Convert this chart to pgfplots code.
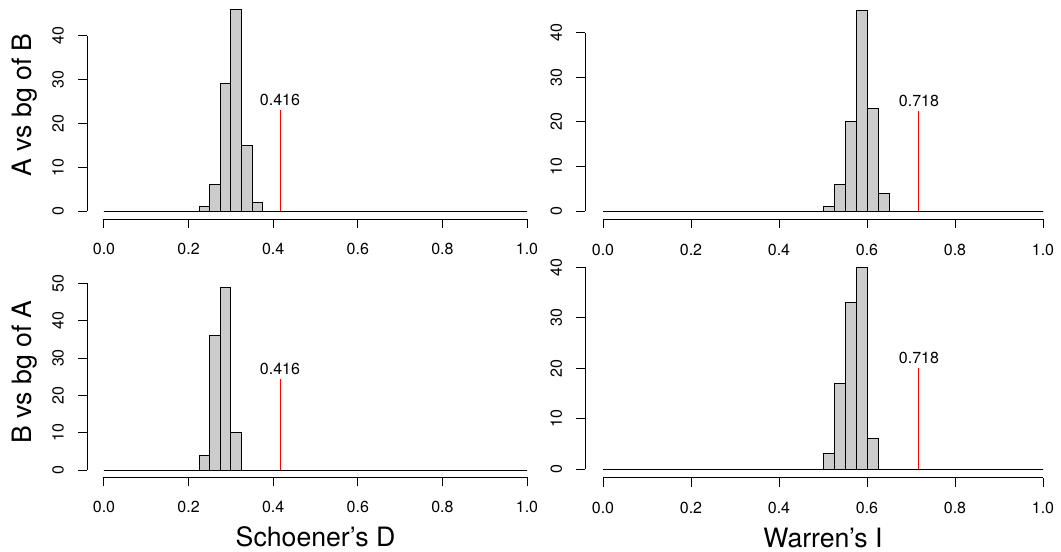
\documentclass[border=0pt]{standalone}
\usepackage{fontspec}
\setmainfont{TeX Gyre Heros}
\usepackage{pgfplots}
\pgfplotsset{compat=1.18}
\definecolor{barfill}{gray}{0.8}
\definecolor{obsred}{rgb}{1,0,0}
\tikzset{obslab/.style={font=\fontsize{12}{14}\selectfont, inner sep=0pt, text=black},
  ylab/.style={rotate=90, anchor=base, font=\fontsize{20}{24}\selectfont, inner sep=0pt}}
\pgfplotsset{
  rpanel/.style={
    scale only axis,
    axis x line*=bottom, axis y line*=left,
    axis line style={draw=none},
    xmin=-0.04, xmax=1.04,
    tick align=outside,
    major tick length=6.75pt,
    tick style={black, line width=0.75pt},
    xtick={0,0.2,0.4,0.6,0.8,1},
    xticklabels={0.0,0.2,0.4,0.6,0.8,1.0},
    /pgf/number format/assume math mode=true,
    ticklabel style={font=\fontsize{12}{14}\selectfont, inner sep=0pt},
    xticklabel style={anchor=north},
    yticklabel style={rotate=90, anchor=south},
    xticklabel shift=11.25pt,
    yticklabel shift=10.5pt,
    clip=false,
    every axis x label/.style={at={(axis description cs:0.5,-0.32)}, anchor=base, font=\fontsize{20}{24}\selectfont, inner sep=0pt},
  },
  hist/.style={ybar interval, fill=barfill, draw=black, line width=0.75pt},
  obs/.style={draw=obsred, line width=0.75pt, sharp plot, mark=none},
}
\begin{document}
\begin{tikzpicture}
\useasboundingbox (0,0) rectangle (795.75pt,414pt);
% top left
\begin{axis}[rpanel, at={(65.31pt,249.46pt)}, anchor=south west,
  width=342.63pt, height=164.03pt, ymin=-1.9, ymax=48,
  ytick={0,10,20,30,40}]
\addplot[hist] coordinates {(0,0)(0.025,0)(0.05,0)(0.075,0)(0.1,0)(0.125,0)(0.15,0)(0.175,0)(0.2,0)
 (0.225,1)(0.25,6)(0.275,29)(0.3,46)(0.325,15)(0.35,2)
 (0.375,0)(0.4,0)(0.425,0)(0.45,0)(0.475,0)(0.5,0)(0.525,0)(0.55,0)(0.575,0)(0.6,0)(0.625,0)(0.65,0)(0.675,0)
 (0.7,0)(0.725,0)(0.75,0)(0.775,0)(0.8,0)(0.825,0)(0.85,0)(0.875,0)(0.9,0)(0.925,0)(0.95,0)(0.975,0)(1,0)};
\addplot[obs] coordinates {(0.4165,0)(0.4165,23)};
\node[obslab] at (axis cs:0.416,25.3) {0.416};
\draw[black, line width=0.75pt] (axis cs:0,-1.9) -- (axis cs:1,-1.9);
\draw[black, line width=0.75pt] (axis cs:-0.04,0) -- (axis cs:-0.04,40);
\end{axis}
% top right
\begin{axis}[rpanel, at={(439.05pt,249.375pt)}, anchor=south west,
  width=356.4pt, height=163.6pt, ymin=-1.9, ymax=47,
  ytick={0,10,20,30,40}]
\addplot[hist] coordinates {(0,0)(0.025,0)(0.05,0)(0.075,0)(0.1,0)(0.125,0)(0.15,0)(0.175,0)(0.2,0)
 (0.225,0)(0.25,0)(0.275,0)(0.3,0)(0.325,0)(0.35,0)(0.375,0)(0.4,0)(0.425,0)(0.45,0)(0.475,0)
 (0.5,1)(0.525,6)(0.55,20)(0.575,45)(0.6,23)(0.625,4)
 (0.65,0)(0.675,0)(0.7,0)(0.725,0)(0.75,0)(0.775,0)(0.8,0)(0.825,0)(0.85,0)(0.875,0)(0.9,0)(0.925,0)(0.95,0)(0.975,0)(1,0)};
\addplot[obs] coordinates {(0.718,0)(0.718,22.5)};
\node[obslab] at (axis cs:0.718,24.75) {0.718};
\draw[black, line width=0.75pt] (axis cs:0,-1.9) -- (axis cs:1,-1.9);
\draw[black, line width=0.75pt] (axis cs:-0.04,0) -- (axis cs:-0.04,40);
\end{axis}
% bottom left
\begin{axis}[rpanel, at={(65.31pt,56.0pt)}, anchor=south west,
  width=342.63pt, height=162.29pt, ymin=-1.95, ymax=56,
  ytick={0,10,20,30,40,50}, xlabel={Schoener's D}]
\addplot[hist] coordinates {(0,0)(0.025,0)(0.05,0)(0.075,0)(0.1,0)(0.125,0)(0.15,0)(0.175,0)(0.2,0)
 (0.225,4)(0.25,36)(0.275,49)(0.3,10)
 (0.325,0)(0.35,0)(0.375,0)(0.4,0)(0.425,0)(0.45,0)(0.475,0)(0.5,0)(0.525,0)(0.55,0)(0.575,0)(0.6,0)(0.625,0)(0.65,0)(0.675,0)
 (0.7,0)(0.725,0)(0.75,0)(0.775,0)(0.8,0)(0.825,0)(0.85,0)(0.875,0)(0.9,0)(0.925,0)(0.95,0)(0.975,0)(1,0)};
\addplot[obs] coordinates {(0.4165,0)(0.4165,24.5)};
\node[obslab] at (axis cs:0.416,26.95) {0.416};
\draw[black, line width=0.75pt] (axis cs:0,-1.95) -- (axis cs:1,-1.95);
\draw[black, line width=0.75pt] (axis cs:-0.04,0) -- (axis cs:-0.04,50);
\end{axis}
% bottom right
\begin{axis}[rpanel, at={(439.05pt,55.6pt)}, anchor=south west,
  width=356.4pt, height=163.94pt, ymin=-1.75, ymax=41.6,
  ytick={0,10,20,30,40}, xlabel={Warren's I}]
\addplot[hist] coordinates {(0,0)(0.025,0)(0.05,0)(0.075,0)(0.1,0)(0.125,0)(0.15,0)(0.175,0)(0.2,0)
 (0.225,0)(0.25,0)(0.275,0)(0.3,0)(0.325,0)(0.35,0)(0.375,0)(0.4,0)(0.425,0)(0.45,0)(0.475,0)
 (0.5,3)(0.525,17)(0.55,33)(0.575,40)(0.6,6)
 (0.625,0)(0.65,0)(0.675,0)(0.7,0)(0.725,0)(0.75,0)(0.775,0)(0.8,0)(0.825,0)(0.85,0)(0.875,0)(0.9,0)(0.925,0)(0.95,0)(0.975,0)(1,0)};
\addplot[obs] coordinates {(0.718,0)(0.718,20)};
\node[obslab] at (axis cs:0.718,22) {0.718};
\draw[black, line width=0.75pt] (axis cs:0,-1.75) -- (axis cs:1,-1.75);
\draw[black, line width=0.75pt] (axis cs:-0.04,0) -- (axis cs:-0.04,40);
\end{axis}
\node[ylab] at (24pt,335.25pt) {A vs bg of B};
\node[ylab] at (24pt,135pt) {B vs bg of A};
\end{tikzpicture}
\end{document}
